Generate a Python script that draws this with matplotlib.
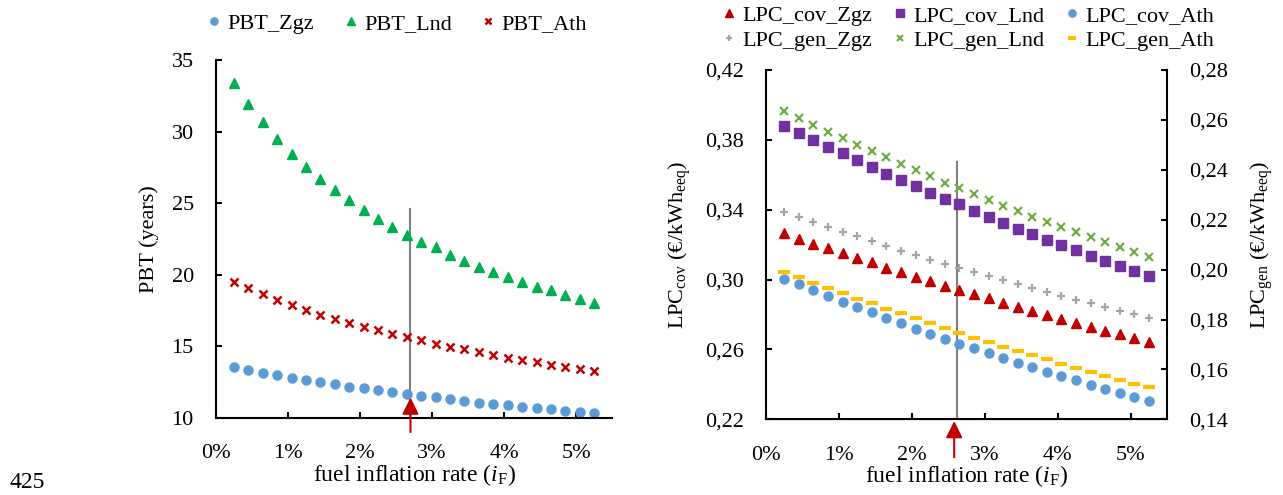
import matplotlib
matplotlib.use("Agg")
import matplotlib.pyplot as plt
from matplotlib.ticker import FuncFormatter, FixedLocator

plt.rcParams['font.family'] = ['Liberation Serif', 'DejaVu Serif']
plt.rcParams['mathtext.fontset'] = 'custom'
plt.rcParams['mathtext.rm'] = 'Liberation Serif'
plt.rcParams['mathtext.it'] = 'Liberation Serif:italic'
plt.rcParams['font.size'] = 16

# fuel inflation rate (%)
i_F = [0.25, 0.45, 0.65, 0.85, 1.05, 1.25, 1.45, 1.65, 1.85, 2.05, 2.25, 2.45, 2.65,
       2.85, 3.05, 3.25, 3.45, 3.65, 3.85, 4.05, 4.25, 4.45, 4.65, 4.85, 5.05, 5.25]
x_ticks = [0, 1, 2, 3, 4, 5]

# pay back time (years)
pbt_zgz = [13.51, 13.33, 13.12, 12.96, 12.79, 12.63, 12.47, 12.33, 12.16, 12.05, 11.91, 11.77, 11.65,
           11.54, 11.42, 11.30, 11.16, 11.05, 10.95, 10.86, 10.77, 10.67, 10.58, 10.49, 10.42, 10.35]
pbt_lnd = [33.4, 31.9, 30.65, 29.5, 28.45, 27.5, 26.7, 25.9, 25.2, 24.55, 23.9, 23.35, 22.8,
           22.3, 21.9, 21.35, 20.95, 20.5, 20.2, 19.8, 19.5, 19.15, 18.9, 18.55, 18.3, 18.05]
pbt_ath = [19.45, 19.03, 18.66, 18.24, 17.89, 17.54, 17.21, 16.91, 16.63, 16.36, 16.10, 15.84, 15.61,
           15.40, 15.17, 14.96, 14.77, 14.56, 14.38, 14.19, 14.03, 13.87, 13.71, 13.54, 13.40, 13.26]
pbt_ticks = [10, 15, 20, 25, 30, 35]

# LPC covered (left axis)
lpc_cov_zgz = [0.3266, 0.3235, 0.3205, 0.3180, 0.3152, 0.3123, 0.3098, 0.3066, 0.3041, 0.3016, 0.2991, 0.2964, 0.2942,
               0.2917, 0.2892, 0.2867, 0.2843, 0.2821, 0.2797, 0.2774, 0.2749, 0.2728, 0.2707, 0.2686, 0.2665, 0.2645]
lpc_cov_lnd = [0.3881, 0.3841, 0.3801, 0.3761, 0.3724, 0.3684, 0.3643, 0.3607, 0.3571, 0.3535, 0.3498, 0.3464, 0.3430,
               0.3394, 0.3359, 0.3325, 0.3292, 0.3262, 0.3229, 0.3199, 0.3168, 0.3136, 0.3107, 0.3079, 0.3049, 0.3022]
lpc_cov_ath = [0.3003, 0.2972, 0.2942, 0.2907, 0.2873, 0.2843, 0.2812, 0.2780, 0.2749, 0.2719, 0.2690, 0.2661, 0.2633,
               0.2606, 0.2577, 0.2551, 0.2524, 0.2499, 0.2473, 0.2446, 0.2423, 0.2398, 0.2374, 0.2351, 0.2328, 0.2303]
cov_ticks = [0.22, 0.26, 0.30, 0.34, 0.38, 0.42]

# LPC generated (right axis)
lpc_gen_zgz = [0.2230, 0.2210, 0.2191, 0.2171, 0.2152, 0.2133, 0.2115, 0.2095, 0.2075, 0.2057, 0.2040, 0.2022, 0.2005,
               0.1989, 0.1973, 0.1957, 0.1941, 0.1925, 0.1909, 0.1894, 0.1879, 0.1865, 0.1850, 0.1835, 0.1822, 0.1807]
lpc_gen_lnd = [0.2636, 0.2609, 0.2581, 0.2553, 0.2527, 0.2501, 0.2474, 0.2450, 0.2423, 0.2399, 0.2374, 0.2348, 0.2326,
               0.2302, 0.2279, 0.2255, 0.2234, 0.2212, 0.2192, 0.2171, 0.2151, 0.2129, 0.2109, 0.2091, 0.2072, 0.2052]
lpc_gen_ath = [0.1992, 0.1969, 0.1948, 0.1926, 0.1905, 0.1883, 0.1865, 0.1843, 0.1825, 0.1805, 0.1785, 0.1766, 0.1746,
               0.1727, 0.1709, 0.1691, 0.1674, 0.1657, 0.1640, 0.1622, 0.1606, 0.1590, 0.1574, 0.1558, 0.1543, 0.1529]
gen_ticks = [0.14, 0.16, 0.18, 0.20, 0.22, 0.24, 0.26, 0.28]

# reference inflation marks
ref_left = 2.7
ref_left_top = 24.6
ref_right_line = 2.62
ref_right_arrow = 2.58
ref_right_top = 0.3675

BLUE = '#5B9BD5'
GREEN = '#00B050'
RED = '#C00000'
PURPLE = '#7030A0'
GREY = '#A5A5A5'
LGREEN = '#70AD47'
YELLOW = '#FFC000'

pct = FuncFormatter(lambda v, p: f'{v:.0f}%')
comma = FuncFormatter(lambda v, p: f'{v:.2f}'.replace('.', ','))
XLABEL = r'fuel inflation rate ($i_{\mathrm{F}}$)'


def style_axis(ax):
    for s in ['top', 'right']:
        ax.spines[s].set_visible(False)
    for s in ['left', 'bottom', 'right']:
        ax.spines[s].set_linewidth(1.5)
    ax.tick_params(direction='in', width=1.5, length=4.5, labelsize=16)
    ax.tick_params(axis='x', pad=19)
    ax.tick_params(axis='y', pad=16)
    ax.set_xlim(0, 5.5)
    ax.xaxis.set_major_locator(FixedLocator(x_ticks))
    ax.xaxis.set_major_formatter(pct)
    ax.set_xlabel(XLABEL, fontsize=17, labelpad=-1)


fig = plt.figure(figsize=(12.83, 4.95), dpi=100)

# ---- left: PBT
ax1 = fig.add_axes([0.1684, 0.1562, 0.3087, 0.7226])
style_axis(ax1)
ax1.plot(i_F, pbt_zgz, 'o', color=BLUE, ms=6.5, label='PBT_Zgz')
ax1.plot(i_F, pbt_lnd, '^', color=GREEN, ms=6.5, label='PBT_Lnd')
ax1.plot(i_F, pbt_ath, 'x', color=RED, ms=6, mew=1.8, label='PBT_Ath')
ax1.set_ylim(10, 35)
ax1.yaxis.set_major_locator(FixedLocator(pbt_ticks))
fig.text(149 / 1283, 1 - 239 / 495, 'PBT (years)', rotation=90, ha='center', va='center', fontsize=16)
ax1.plot([ref_left, ref_left], [10, ref_left_top], color='#808080', lw=1.5, zorder=1)
ax1.annotate('', xy=(ref_left, 11.6), xytext=(ref_left, 8.8),
             arrowprops=dict(arrowstyle='-|>', color=RED, lw=1.5, mutation_scale=25),
             annotation_clip=False)
ax1.legend(loc='center', bbox_to_anchor=(395 / 1283, 1 - 24 / 495), bbox_transform=fig.transFigure,
           ncol=3, frameon=False, fontsize=16, handletextpad=0.1, columnspacing=1.15,
           handlelength=1.0, borderaxespad=0, borderpad=0, markerscale=0.8)

# ---- right: LPC
ax2 = fig.add_axes([0.5970, 0.1529, 0.3128, 0.7057])
style_axis(ax2)
ax3 = ax2.twinx()
ax3.spines['top'].set_visible(False)
ax3.spines['left'].set_visible(False)
ax3.spines['right'].set_linewidth(1.5)
ax3.tick_params(direction='in', width=1.5, length=4.5, labelsize=16, pad=16)

h1, = ax2.plot(i_F, lpc_cov_zgz, '^', color=RED, ms=6.5, label='LPC_cov_Zgz')
h2, = ax2.plot(i_F, lpc_cov_lnd, 's', color=PURPLE, ms=6.5, label='LPC_cov_Lnd')
h3, = ax2.plot(i_F, lpc_cov_ath, 'o', color=BLUE, ms=6.5, label='LPC_cov_Ath')
h4, = ax3.plot(i_F, lpc_gen_zgz, '+', color=GREY, ms=6, mew=1.6, label='LPC_gen_Zgz')
h5, = ax3.plot(i_F, lpc_gen_lnd, 'x', color=LGREEN, ms=6, mew=1.6, label='LPC_gen_Lnd')
h6, = ax3.plot(i_F, lpc_gen_ath, '_', color=YELLOW, ms=8, mew=3, label='LPC_gen_Ath')

ax2.set_ylim(0.22, 0.42)
ax2.yaxis.set_major_locator(FixedLocator(cov_ticks))
ax2.yaxis.set_major_formatter(comma)
ax3.set_ylim(0.14, 0.28)
ax3.yaxis.set_major_locator(FixedLocator(gen_ticks))
ax3.yaxis.set_major_formatter(comma)
fig.text(680 / 1283, 1 - 245 / 495, r'LPC$_{\mathrm{cov}}$ (€/kWh$_{\mathrm{eeq}}$)',
         rotation=90, ha='center', va='center', fontsize=16)
fig.text(1262 / 1283, 1 - 245 / 495, r'LPC$_{\mathrm{gen}}$ (€/kWh$_{\mathrm{eeq}}$)',
         rotation=90, ha='center', va='center', fontsize=16)

ax2.plot([ref_right_line, ref_right_line], [0.22, ref_right_top], color='#808080', lw=1.5, zorder=1)
ax2.annotate('', xy=(ref_right_arrow, 0.2206), xytext=(ref_right_arrow, 0.1967),
             arrowprops=dict(arrowstyle='-|>', color=RED, lw=1.5, mutation_scale=25),
             annotation_clip=False)

# row-wise order, like the original legend
ax2.legend(handles=[h1, h4, h2, h5, h3, h6], loc='center',
           bbox_to_anchor=(966 / 1283, 1 - 28 / 495), bbox_transform=fig.transFigure,
           ncol=3, frameon=False, fontsize=16, handletextpad=0.1, columnspacing=0.75,
           handlelength=1.0, borderaxespad=0, borderpad=0, labelspacing=0.2, markerscale=0.8)

fig.text(9 / 1283, 1 - 482 / 495, '425', fontsize=17, va='center')

fig.savefig('out.png', dpi=100)
